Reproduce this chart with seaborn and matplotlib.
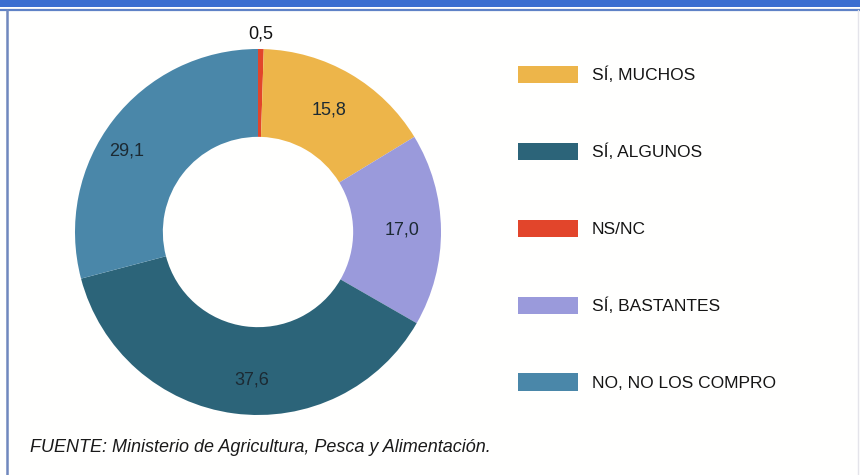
import matplotlib
matplotlib.use("Agg")
import matplotlib.pyplot as plt
from matplotlib.patches import Patch, Rectangle
from matplotlib.lines import Line2D
import seaborn as sns
import numpy as np

# Survey answers, in the order they run clockwise from 12 o'clock
categories = ["NS/NC", "SÍ, MUCHOS", "SÍ, BASTANTES", "SÍ, ALGUNOS", "NO, NO LOS COMPRO"]
shares = [0.5, 15.8, 17.0, 37.6, 29.1]
slice_colors = ["#E2452B", "#EDB54A", "#9A9ADB", "#2C6479", "#4A87A9"]

# Legend order
legend_order = ["SÍ, MUCHOS", "SÍ, ALGUNOS", "NS/NC", "SÍ, BASTANTES", "NO, NO LOS COMPRO"]

source_note = "FUENTE: Ministerio de Agricultura, Pesca y Alimentación."

sns.set_theme(style="white")
plt.rcParams["font.family"] = ["Liberation Sans", "DejaVu Sans"]

W, H = 860, 475
fig = plt.figure(figsize=(W / 100, H / 100), dpi=100, facecolor="#FFFFFE")

palette = sns.color_palette(slice_colors)
color_of = dict(zip(categories, palette))

# Donut axes: 400x400 px square centred on the ring
cx, cy, half = 258, 232, 200
ax = fig.add_axes([(cx - half) / W, (H - cy - half) / H, 2 * half / W, 2 * half / H])
ax.set_facecolor("none")

outer_px = 183
lim = half / outer_px
wedges, _ = ax.pie(
    shares,
    colors=palette,
    startangle=90,
    counterclock=False,
    radius=1.0,
    wedgeprops=dict(width=0.48, edgecolor="none", linewidth=0),
)
ax.set_xlim(-lim, lim)
ax.set_ylim(-lim, lim)
ax.set_aspect("equal")
ax.axis("off")

# radial distance and small angular nudge (degrees) for each value label
label_pos = {"NS/NC": (1.08, 0), "SÍ, MUCHOS": (0.77, 0), "SÍ, BASTANTES": (0.79, 0),
             "SÍ, ALGUNOS": (0.81, 5), "NO, NO LOS COMPRO": (0.84, 6)}
for w, cat, val in zip(wedges, categories, shares):
    r, nudge = label_pos[cat]
    mid = np.deg2rad((w.theta1 + w.theta2) / 2 + nudge)
    txt = f"{val:.1f}".replace(".", ",")
    ax.text(r * np.cos(mid), r * np.sin(mid), txt, ha="center", va="center",
            fontsize=13, color="#1C2A33" if cat != "NS/NC" else "#111111")

# Legend with wide colour bars
handles = [Patch(facecolor=color_of[c], edgecolor="none") for c in legend_order]
fig.legend(
    handles, legend_order,
    loc="upper left",
    bbox_to_anchor=(518 / W, 1 - 66 / H),
    frameon=False,
    fontsize=12.5,
    handlelength=3.45,
    handleheight=1.15,
    handletextpad=0.8,
    labelspacing=3.42,
    borderpad=0,
    borderaxespad=0,
    labelcolor="#151515",
)

fig.text(30 / W, 1 - 447 / H, source_note, fontsize=13, style="italic",
         color="#1A1A1A", ha="left", va="center")

# Frame: blue band across the top and a thin rule down the left edge
fig.add_artist(Rectangle((0, 1 - 7 / H), 1, 7 / H, transform=fig.transFigure,
                         facecolor="#3B6ED0", edgecolor="none"))
fig.add_artist(Line2D([0, 1], [1 - 10 / H, 1 - 10 / H], transform=fig.transFigure,
                      color="#5F82C6", linewidth=1.6))
fig.add_artist(Line2D([7 / W, 7 / W], [0, 1 - 10 / H], transform=fig.transFigure,
                      color="#7088BE", linewidth=1.8))
fig.add_artist(Line2D([858 / W, 858 / W], [0, 1 - 10 / H], transform=fig.transFigure,
                      color="#E4E4EA", linewidth=1.0))

fig.savefig("out.png", dpi=100, facecolor=fig.get_facecolor())
